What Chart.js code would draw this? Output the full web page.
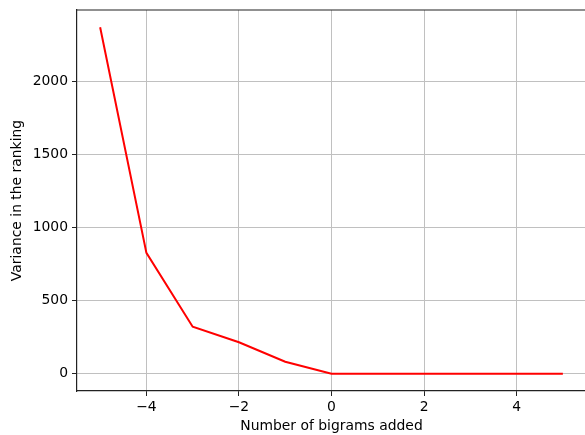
<!DOCTYPE html>
<html>
<head>
<meta charset="utf-8">
<script src="https://cdn.jsdelivr.net/npm/chart.js@4/dist/chart.umd.min.js"></script>
<style>
  body { margin: 0; background: #fff; }
  #wrap { width: 585px; height: 435px; overflow: hidden; }
</style>
</head>
<body>
<div id="wrap"><canvas id="grafica" width="600" height="435"></canvas></div>
<script>
// data
var bigramsAdded = [-5, -4, -3, -2, -1, 0, 1, 2, 3, 4, 5];
var varianza = [2373, 828, 322, 215, 82, 0, 0, 0, 0, 0, 0];
var xTicks = [-4, -2, 0, 2, 4];
var yTicks = [0, 500, 1000, 1500, 2000];

var fuente = { family: 'DejaVu Sans', size: 13.9 };
Chart.defaults.color = '#000';

// top spine (matplotlib box); right one falls off the picture
var marco = {
    id: 'marco',
    afterDraw: function(chart){
        var a = chart.chartArea, c = chart.ctx;
        c.save();
        c.strokeStyle = '#222';
        c.lineWidth = 1.2;
        c.beginPath();
        c.moveTo(a.left, a.top);
        c.lineTo(a.right, a.top);
        c.stroke();
        c.restore();
    }
};

var ctx = document.getElementById('grafica').getContext('2d');
var chart = new Chart(ctx, {
    type: 'line',
    data: {
        datasets: [{
            data: bigramsAdded.map(function(x, i){ return { x: x, y: varianza[i] }; }),
            borderColor: '#ff0000',
            borderWidth: 2,
            pointRadius: 0,
            tension: 0,
            fill: false
        }]
    },
    plugins: [marco],
    options: {
        responsive: false,
        animation: false,
        layout: { padding: { top: 10, right: 14, left: 0, bottom: 0 } },
        plugins: { legend: { display: false }, tooltip: { enabled: false } },
        scales: {
            x: {
                type: 'linear',
                min: -5.5,
                max: 5.5,
                afterBuildTicks: function(s){ s.ticks = xTicks.map(function(v){ return { value: v }; }); },
                afterFit: function(s){ s.height = 44; s.paddingLeft = 0; s.paddingRight = 0; },
                grid: { color: '#c0c0c0', lineWidth: 1, tickColor: '#222', tickLength: 5 },
                border: { color: '#222', width: 1.2 },
                ticks: { font: fuente, padding: 3, maxRotation: 0,
                    callback: function(v){ return v < 0 ? '\u2212' + Math.abs(v) : '' + v; } },
                title: { display: true, text: 'Number of bigrams added', font: fuente, padding: { top: 0, bottom: 0 } }
            },
            y: {
                min: -118.65,
                max: 2491.65,
                afterBuildTicks: function(s){ s.ticks = yTicks.map(function(v){ return { value: v }; }); },
                afterFit: function(s){ s.width = 77; s.paddingTop = 0; s.paddingBottom = 0; },
                grid: { color: '#c0c0c0', lineWidth: 1, tickColor: '#222', tickLength: 5 },
                border: { color: '#222', width: 1.2 },
                ticks: { font: fuente, padding: 4, callback: function(v){ return '' + v; } },
                title: { display: true, text: 'Variance in the ranking', font: fuente, padding: { top: 9, bottom: 0 } }
            }
        }
    }
});
</script>
</body>
</html>
